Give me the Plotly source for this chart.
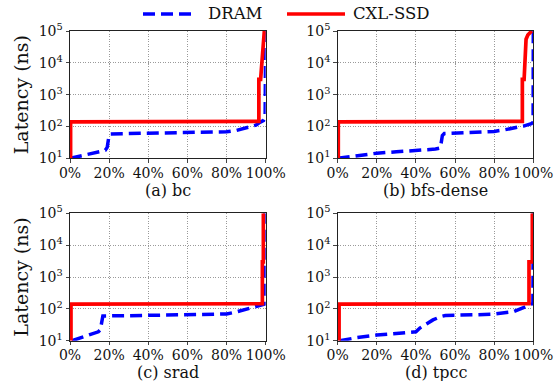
import plotly.graph_objects as go
from plotly.subplots import make_subplots

# Percentile axis ticks (%) and latency decades (ns)
pct_ticks = [0, 20, 40, 60, 80, 100]
pct_labels = ["0%", "20%", "40%", "60%", "80%", "100%"]
lat_ticks = [10, 100, 1000, 10000, 100000]
lat_labels = ["10<sup>1</sup>", "10<sup>2</sup>", "10<sup>3</sup>", "10<sup>4</sup>", "10<sup>5</sup>"]

# (a) bc
bc_dram_pct = [0, 5, 10, 15, 18, 19, 19.8, 20.5, 30, 50, 70, 80, 85, 90, 95, 97, 99, 99.7, 99.9, 100]
bc_dram_lat = [10, 11.5, 13.5, 16, 18, 22, 45, 58, 60, 62, 64, 68, 75, 88, 110, 135, 155, 185, 3000, 100000]
bc_cxl_pct = [0.3, 0.3, 96.5, 96.5, 97.4, 98.3, 99.3]
bc_cxl_lat = [10, 140, 145, 3000, 3000, 15000, 100000]

# (b) bfs-dense
bfs_dram_pct = [0, 10, 20, 30, 40, 50, 52.5, 53, 53.5, 54.5, 60, 70, 80, 85, 90, 95, 99, 99.9, 100]
bfs_dram_lat = [10, 12, 14.5, 16, 17.5, 19.5, 21, 30, 52, 60, 62, 65, 70, 78, 88, 103, 122, 135, 100000]
bfs_cxl_pct = [0.3, 0.3, 94.4, 94.4, 95.3, 95.5, 95.8, 96.3, 97.2, 98.5, 99.2]
bfs_cxl_lat = [10, 140, 145, 3000, 3000, 8000, 30000, 55000, 75000, 92000, 100000]

# (c) srad
srad_dram_pct = [1, 5, 10, 14.5, 15.5, 16.2, 16.8, 30, 50, 70, 80, 85, 90, 95, 98, 99.3, 99.3, 99.5]
srad_dram_lat = [10, 12, 15, 19, 22, 45, 60, 61, 63, 65, 69, 80, 97, 115, 132, 140, 3000, 100000]
srad_cxl_pct = [0.5, 0.5, 98.3, 98.3, 98.8, 98.8]
srad_cxl_lat = [10, 140, 145, 3000, 3000, 100000]

# (d) tpcc
tpcc_dram_pct = [1, 10, 20, 30, 40, 42, 45, 48.7, 53, 55, 70, 80, 90, 95, 98, 99.8, 100]
tpcc_dram_lat = [10, 12.5, 15, 17, 19, 25, 33, 45, 58, 62, 65, 69, 82, 105, 130, 150, 100000]
tpcc_cxl_pct = [0.7, 0.7, 97.8, 97.8, 99.5, 99.5]
tpcc_cxl_lat = [10, 140, 145, 3000, 3000, 100000]

panels = [
    ("(a) bc", bc_dram_pct, bc_dram_lat, bc_cxl_pct, bc_cxl_lat),
    ("(b) bfs-dense", bfs_dram_pct, bfs_dram_lat, bfs_cxl_pct, bfs_cxl_lat),
    ("(c) srad", srad_dram_pct, srad_dram_lat, srad_cxl_pct, srad_cxl_lat),
    ("(d) tpcc", tpcc_dram_pct, tpcc_dram_lat, tpcc_cxl_pct, tpcc_cxl_lat),
]

W, H = 559, 381
FONT = "DejaVu Serif"
BLUE = "#0000ff"
RED = "#ff0000"
DASH = "12px,6px"
GRID_DASH = "1px,1.5px"

# plot-area boxes in pixels: (left, right, top, bottom)
boxes = [
    (70, 265.7, 31, 158.3),
    (337.7, 533.3, 31, 158.3),
    (70, 265.7, 213.3, 340.7),
    (337.7, 533.3, 213.3, 340.7),
]

fig = make_subplots(rows=2, cols=2)

for i, (title, dx, dy, cx, cy) in enumerate(panels):
    r, c = i // 2 + 1, i % 2 + 1
    fig.add_trace(go.Scatter(x=dx, y=dy, mode="lines", name="DRAM", showlegend=False,
                             line=dict(color=BLUE, width=3.5, dash=DASH)), row=r, col=c)
    fig.add_trace(go.Scatter(x=cx, y=cy, mode="lines", name="CXL-SSD", showlegend=False,
                             line=dict(color=RED, width=3.7)), row=r, col=c)

    left, right, top, bottom = boxes[i]
    xa = "xaxis" if i == 0 else f"xaxis{i + 1}"
    ya = "yaxis" if i == 0 else f"yaxis{i + 1}"
    fig.layout[xa].update(
        domain=[left / W, right / W], range=[0, 100], automargin=False,
        tickmode="array", tickvals=pct_ticks, ticktext=pct_labels,
        showgrid=True, gridcolor="#9a9a9a", griddash=GRID_DASH, gridwidth=1,
        showline=True, mirror=True, linecolor="#222", linewidth=1,
        ticks="outside", ticklen=3.5, tickcolor="#444", zeroline=False,
        ticklabelstandoff=-2,
        tickfont=dict(family=FONT, size=14, color="#111"))
    fig.layout[ya].update(
        domain=[1 - bottom / H, 1 - top / H], type="log", range=[1, 5], automargin=False,
        tickmode="array", tickvals=lat_ticks, ticktext=lat_labels,
        showgrid=True, gridcolor="#9a9a9a", griddash=GRID_DASH, gridwidth=1,
        showline=True, mirror=True, linecolor="#222", linewidth=1,
        ticks="outside", ticklen=3.5, tickcolor="#444", zeroline=False,
        tickfont=dict(family=FONT, size=14, color="#111"))
    if c == 1:
        fig.layout[ya].update(title=dict(text="Latency (ns)", standoff=4,
                                         font=dict(family=FONT, size=19, color="#111")))

    fig.add_annotation(text=title, xref="paper", yref="paper",
                       x=(left + right) / 2 / W, y=1 - (bottom + 32) / H,
                       xanchor="center", yanchor="middle", showarrow=False,
                       font=dict(family=FONT, size=16, color="#111"))

# legend row across the top
legend_y = 1 - 14 / H
fig.add_shape(type="line", xref="paper", yref="paper", x0=143 / W, x1=193 / W, y0=legend_y, y1=legend_y,
              line=dict(color=BLUE, width=3.5, dash=DASH))
fig.add_annotation(text="DRAM", xref="paper", yref="paper", x=206 / W, y=legend_y,
                   xanchor="left", yanchor="middle", showarrow=False,
                   font=dict(family=FONT, size=16.5, color="#111"))
fig.add_shape(type="line", xref="paper", yref="paper", x0=287 / W, x1=345 / W, y0=legend_y, y1=legend_y,
              line=dict(color=RED, width=3.7))
fig.add_annotation(text="CXL-SSD", xref="paper", yref="paper", x=351 / W, y=legend_y,
                   xanchor="left", yanchor="middle", showarrow=False,
                   font=dict(family=FONT, size=16.5, color="#111"))

fig.update_layout(width=W, height=H, margin=dict(l=0, r=0, t=0, b=0),
                  paper_bgcolor="white", plot_bgcolor="white",
                  font=dict(family=FONT, color="#111"))

fig.write_html("out.html")
